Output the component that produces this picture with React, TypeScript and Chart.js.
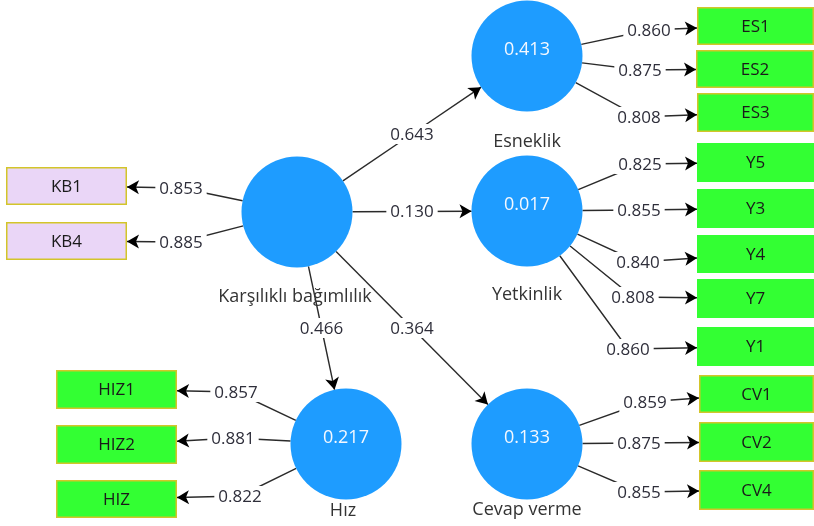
import React, { useEffect, useRef } from "react";
import { Chart, registerables } from "chart.js";
Chart.register(...registerables);

// ---------- DATA ----------
const constructNames = ["Karşılıklı bağımlılık", "Esneklik", "Yetkinlik", "Hız", "Cevap verme"];
const constructR2: (number | null)[] = [null, 0.413, 0.017, 0.217, 0.133];

const pathFrom = [0, 0, 0, 0];
const pathTo = [1, 2, 3, 4];
const pathCoefs = [0.643, 0.13, 0.466, 0.364];

const indicatorNames = ["ES1", "ES2", "ES3", "Y5", "Y3", "Y4", "Y7", "Y1", "CV1", "CV2", "CV4", "KB1", "KB4", "HIZ1", "HIZ2", "HIZ"];
const indicatorLoadings = [0.86, 0.875, 0.808, 0.825, 0.855, 0.84, 0.808, 0.86, 0.859, 0.875, 0.855, 0.853, 0.885, 0.857, 0.881, 0.822];
const indicatorConstruct = [1, 1, 1, 2, 2, 2, 2, 2, 4, 4, 4, 0, 0, 3, 3, 3];

// ---------- LAYOUT (diagram coordinates) ----------
const constructX = [297, 527, 527, 346, 527];
const constructY = [212, 56, 211, 444, 444];
const constructLabelX = [295, 527, 527, 343, 527];
const constructLabelY = [297, 142, 295, 511, 510];
const CIRCLE_R = 55.5;

const boxX = [697, 696, 697, 697, 697, 697, 697, 697, 699, 699, 699, 6, 6, 56, 56, 56];
const boxY = [7, 50, 93, 143, 189, 235, 279, 327, 375, 422, 470, 167, 222, 370, 425, 480];
const boxW = [117, 118, 117, 117, 117, 117, 117, 117, 115, 115, 115, 121, 121, 121, 121, 121];
const boxH = [38, 38, 39, 39, 39, 38, 39, 39, 38, 40, 40, 38, 38, 39, 39, 38];
const loadLabelX = [649, 640, 639, 640, 639, 638, 633, 628, 645, 639, 639, 181, 181, 236, 233, 240];
const loadLabelY = [30, 70, 117, 164, 210, 262, 297, 349, 402, 443, 492, 188, 242, 392, 438, 496];

const BLUE = "#1e9cff";
const GREEN = "#33ff33";
const LAVENDER = "#ead6f7";
const BORDER_YELLOW = "#d3c52a";
const FONT = "'Open Sans', 'Noto Sans', sans-serif";

function arrowHead(ctx: CanvasRenderingContext2D, fx: number, fy: number, tx: number, ty: number) {
  const a = Math.atan2(ty - fy, tx - fx);
  const len = 12;
  const hw = 7;
  const bx = tx - len * Math.cos(a);
  const by = ty - len * Math.sin(a);
  ctx.beginPath();
  ctx.moveTo(tx, ty);
  ctx.lineTo(bx + hw * Math.sin(a), by - hw * Math.cos(a));
  ctx.lineTo(bx + 3 * Math.cos(a), by + 3 * Math.sin(a));
  ctx.lineTo(bx - hw * Math.sin(a), by + hw * Math.cos(a));
  ctx.closePath();
  ctx.fillStyle = "#000";
  ctx.fill();
}

function buildEdges(chart: any) {
  const X = (v: number) => chart.scales.x.getPixelForValue(v);
  const Y = (v: number) => chart.scales.y.getPixelForValue(v);
  const r = X(CIRCLE_R) - X(0);
  const edges: { sx: number; sy: number; lx: number; ly: number; tx: number; ty: number; text: string }[] = [];
  pathCoefs.forEach((c, i) => {
    const ax = X(constructX[pathFrom[i]]), ay = Y(constructY[pathFrom[i]]);
    const bx = X(constructX[pathTo[i]]), by = Y(constructY[pathTo[i]]);
    const d = Math.hypot(bx - ax, by - ay);
    const ux = (bx - ax) / d, uy = (by - ay) / d;
    edges.push({
      sx: ax + ux * r, sy: ay + uy * r,
      lx: (ax + bx) / 2, ly: (ay + by) / 2,
      tx: bx - ux * r, ty: by - uy * r,
      text: c.toFixed(3),
    });
  });
  indicatorLoadings.forEach((v, i) => {
    const ci = indicatorConstruct[i];
    const cx = X(constructX[ci]), cy = Y(constructY[ci]);
    const lx = X(loadLabelX[i]), ly = Y(loadLabelY[i]);
    const d = Math.hypot(lx - cx, ly - cy);
    const left = loadLabelX[i] > constructX[ci];
    const edgeX = left ? X(boxX[i]) : X(boxX[i] + boxW[i]);
    const midY = Y(boxY[i] + boxH[i] / 2);
    edges.push({
      sx: cx + ((lx - cx) / d) * r, sy: cy + ((ly - cy) / d) * r,
      lx, ly,
      tx: edgeX, ty: (ly + midY) / 2,
      text: v.toFixed(3),
    });
  });
  return edges;
}

const diagramPlugin = {
  id: "diagram",
  beforeDatasetsDraw(chart: any) {
    const ctx: CanvasRenderingContext2D = chart.ctx;
    ctx.save();
    ctx.strokeStyle = "#2a2a2a";
    ctx.lineWidth = 1.4;
    for (const e of buildEdges(chart)) {
      ctx.beginPath();
      ctx.moveTo(e.sx, e.sy);
      ctx.lineTo(e.lx, e.ly);
      ctx.lineTo(e.tx, e.ty);
      ctx.stroke();
    }
    ctx.restore();
  },
  afterDatasetsDraw(chart: any) {
    const ctx: CanvasRenderingContext2D = chart.ctx;
    const X = (v: number) => chart.scales.x.getPixelForValue(v);
    const Y = (v: number) => chart.scales.y.getPixelForValue(v);
    ctx.save();
    ctx.font = `17px ${FONT}`;
    ctx.textAlign = "center";
    ctx.textBaseline = "middle";
    for (const e of buildEdges(chart)) {
      const w = ctx.measureText(e.text).width;
      ctx.fillStyle = "#fff";
      ctx.fillRect(e.lx - w / 2 - 4, e.ly - 10, w + 8, 20);
      ctx.fillStyle = "#2e2e3a";
      ctx.fillText(e.text, e.lx, e.ly + 1);
      arrowHead(ctx, e.lx, e.ly, e.tx, e.ty);
    }
    indicatorNames.forEach((name, i) => {
      const x0 = X(boxX[i]), y0 = Y(boxY[i]);
      const x1 = X(boxX[i] + boxW[i]), y1 = Y(boxY[i] + boxH[i]);
      const ci = indicatorConstruct[i];
      ctx.fillStyle = ci === 0 ? LAVENDER : GREEN;
      ctx.fillRect(x0, y0, x1 - x0, y1 - y0);
      if (ci !== 2) {
        ctx.strokeStyle = BORDER_YELLOW;
        ctx.lineWidth = 1.5;
        ctx.strokeRect(x0 + 0.75, y0 + 0.75, x1 - x0 - 1.5, y1 - y0 - 1.5);
      }
      ctx.fillStyle = "#1a1a1a";
      ctx.font = `17px ${FONT}`;
      ctx.fillText(name, (x0 + x1) / 2, (y0 + y1) / 2 + 1);
    });
    constructNames.forEach((name, i) => {
      const v = constructR2[i];
      if (v !== null) {
        ctx.fillStyle = "#f4f8ff";
        ctx.font = `18px ${FONT}`;
        ctx.fillText(v.toFixed(3), X(constructX[i]), Y(constructY[i]) - 6);
      }
      ctx.fillStyle = "#333";
      ctx.font = `18px ${FONT}`;
      ctx.fillText(name, X(constructLabelX[i]), Y(constructLabelY[i]));
    });
    ctx.restore();
  },
};

export default function App() {
  const ref = useRef<HTMLCanvasElement | null>(null);
  useEffect(() => {
    if (!ref.current) return;
    const chart = new Chart(ref.current, {
      type: "scatter",
      data: {
        datasets: [
          {
            data: constructX.map((x, i) => ({ x, y: constructY[i] })),
            pointRadius: CIRCLE_R,
            pointHoverRadius: CIRCLE_R,
            pointBackgroundColor: BLUE,
            pointBorderColor: BLUE,
            pointBorderWidth: 0,
            pointStyle: "circle",
            clip: false,
          },
        ],
      },
      options: {
        animation: false,
        responsive: false,
        maintainAspectRatio: false,
        devicePixelRatio: 1,
        layout: { padding: 0, autoPadding: false },
        events: [],
        plugins: { legend: { display: false }, tooltip: { enabled: false } },
        scales: {
          x: { type: "linear", min: 0, max: 814, display: false },
          y: { type: "linear", min: 0, max: 526, reverse: true, display: false },
        },
      },
      plugins: [diagramPlugin],
    });
    return () => chart.destroy();
  }, []);
  return (
    <div style={{ position: "fixed", left: 0, top: 0, width: 814, height: 526, background: "#fff" }}>
      <canvas ref={ref} width={814} height={526} style={{ display: "block" }} />
    </div>
  );
}
